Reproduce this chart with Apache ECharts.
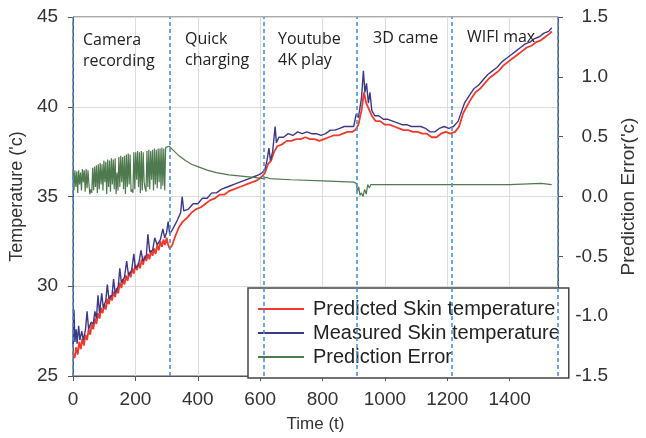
<!DOCTYPE html>
<html><head><meta charset="utf-8">
<script src="https://cdn.jsdelivr.net/npm/echarts@6/dist/echarts.min.js"></script>
<style>html,body{margin:0;padding:0;background:#fff}#c{width:646px;height:438px}</style>
</head><body><div id="c"></div>
<script>
// ---- data ----
const measT = [0,3,6,10,13,18,22,28,33,40,45,50,58,65,70,75,80,85,92,97,105,110,115,125,130,135,145,150,155,165,172,178,188,195,200,210,218,224,235,240,246,255,262,270,280,288,294,300,305,310,320,335,345,350,355,370,385,400,415,430,445,460,475,490,505,520,535,550,565,580,595,605,615,622,628,633,640,648,652,660,675,690,705,720,735,750,765,780,795,810,825,840,855,870,885,900,908,915,925,931,936,941,947,952,958,967,980,995,1010,1025,1040,1055,1070,1085,1100,1115,1130,1145,1160,1175,1190,1205,1220,1235,1245,1255,1270,1285,1300,1315,1330,1345,1360,1375,1390,1405,1420,1435,1450,1465,1480,1495,1510,1525,1535];
const measV = [26.6,28.7,26.9,27.6,26.8,27.8,27.0,27.5,27.0,27.6,28.6,27.6,28.0,27.9,28.6,28.2,29.5,28.5,29.6,28.8,29.2,30.1,29.3,29.5,30.4,29.6,30.0,31.0,30.2,30.5,31.4,30.6,30.9,31.8,31.0,31.2,32.0,31.4,31.7,32.9,31.9,32.0,32.7,32.3,32.6,33.2,32.7,33.0,33.6,32.9,33.2,33.7,34.1,35.0,34.2,34.3,34.6,34.6,34.9,34.9,35.2,35.2,35.4,35.5,35.6,35.7,35.8,35.9,36.0,36.1,36.2,36.3,36.5,37.0,37.7,37.0,37.5,38.9,38.0,38.3,38.3,38.5,38.4,38.6,38.5,38.6,38.5,38.5,38.4,38.5,38.7,38.7,38.8,38.9,38.9,38.9,39.6,39.4,40.5,42.0,40.8,41.3,40.2,40.8,39.8,39.5,39.5,39.3,39.3,39.2,39.1,39.0,39.0,38.9,38.9,38.9,38.8,38.6,38.6,38.8,38.9,38.8,38.9,39.2,39.7,40.2,40.6,41.0,41.2,41.5,41.8,42.0,42.2,42.5,42.7,42.9,43.1,43.3,43.5,43.6,43.8,43.9,44.1,44.2,44.4];

const predT = [0,5,10,15,20,25,30,35,40,45,50,55,60,65,70,75,80,85,90,95,100,105,110,115,120,125,130,135,140,145,150,155,160,165,170,175,180,185,190,195,200,205,210,215,220,225,230,235,240,245,250,255,260,265,270,275,280,285,290,295,300,305,310,318,328,340,352,365,380,395,410,425,440,455,470,485,500,515,530,545,560,575,590,605,615,625,635,645,655,670,685,700,715,730,745,760,775,790,805,820,835,850,865,880,895,905,915,925,933,940,948,958,970,985,1000,1015,1030,1045,1060,1075,1090,1105,1120,1135,1150,1165,1180,1195,1210,1225,1238,1250,1262,1275,1290,1305,1320,1335,1350,1365,1380,1395,1410,1425,1440,1455,1470,1485,1500,1515,1530,1535];
const predV = [26.3,26.0,26.6,26.2,26.9,26.5,27.1,26.7,27.3,27.0,27.6,27.3,27.9,27.6,28.2,27.9,28.5,28.2,28.8,28.5,29.0,28.7,29.3,29.0,29.5,29.2,29.7,29.4,29.9,29.6,30.2,29.9,30.4,30.1,30.6,30.3,30.8,30.5,31.0,30.7,31.2,30.9,31.3,31.0,31.5,31.2,31.7,31.4,31.8,31.5,32.0,31.7,32.1,31.8,32.3,32.0,32.5,32.2,32.6,32.3,32.7,32.3,32.1,32.3,32.8,33.3,33.6,33.8,34.1,34.3,34.4,34.6,34.8,34.9,35.1,35.1,35.3,35.4,35.5,35.6,35.7,35.8,35.9,36.1,36.3,36.8,37.0,37.5,37.8,37.9,38.1,38.1,38.2,38.2,38.3,38.2,38.2,38.1,38.2,38.3,38.4,38.4,38.5,38.6,38.6,38.7,39.0,39.8,40.8,40.2,39.9,39.5,39.2,39.2,39.0,39.0,38.9,38.8,38.7,38.7,38.6,38.6,38.5,38.5,38.3,38.3,38.5,38.6,38.5,38.6,38.9,39.6,40.0,40.4,40.8,41.0,41.3,41.6,41.8,42.0,42.3,42.5,42.7,42.9,43.1,43.3,43.4,43.6,43.7,43.9,44.1,44.2];

const errT = [0,3,6,9,12,15,18,21,24,27,30,33,36,39,42,45,48,51,54,57,60,63,66,69,72,75,78,81,84,87,90,93,96,99,102,105,108,111,114,117,120,123,126,129,132,135,138,141,144,147,150,153,156,159,162,165,168,171,174,177,180,183,186,189,192,195,198,201,204,207,210,213,216,219,222,225,228,231,234,237,240,243,246,249,252,255,258,261,264,267,270,273,276,279,282,285,288,291,294,297,300,308,320,340,360,380,400,430,460,500,540,580,610,620,630,700,800,900,908,912,916,920,925,930,935,940,945,950,955,1000,1100,1200,1300,1400,1500,1535];
const errV = [0.20,0.05,0.22,0.08,0.21,0.03,0.22,0.10,0.20,0.05,0.23,0.12,0.22,0.04,0.23,0.07,0.22,0.10,0.02,0.06,0.03,0.24,0.05,0.25,0.08,0.26,0.03,0.27,0.06,0.28,0.10,0.27,0.05,0.30,0.12,0.29,0.02,0.31,0.08,0.30,0.04,0.32,0.10,0.31,0.06,0.32,0.02,0.20,0.05,0.33,0.08,0.34,0.12,0.33,0.06,0.34,0.02,0.35,0.08,0.36,0.10,0.35,0.04,0.06,0.03,0.37,0.06,0.37,0.14,0.38,0.08,0.37,0.03,0.38,0.05,0.37,0.12,0.07,0.04,0.38,0.08,0.39,0.06,0.38,0.14,0.39,0.05,0.40,0.10,0.39,0.07,0.40,0.12,0.40,0.06,0.41,0.09,0.40,0.05,0.41,0.40,0.42,0.39,0.34,0.30,0.27,0.25,0.22,0.20,0.18,0.17,0.16,0.15,0.16,0.15,0.14,0.13,0.12,0.11,0.04,0.08,0.01,0.03,0.00,0.06,0.02,0.10,0.07,0.10,0.10,0.10,0.10,0.10,0.10,0.11,0.10];

const phaseLines = [0,310,610,910,1215,1553];
const phaseLabels = ['Camera\nrecording','Quick\ncharging','Youtube\n4K play','3D came','WIFI max'];
const seriesNames = ['Predicted Skin temperature','Measured Skin temperature','Prediction Error'];

const pairs = (t, v) => t.map((x, i) => [x, v[i]]);

const chart = echarts.init(document.getElementById('c'), null, {renderer:'canvas'});
const labelPos = [[83,30],[185,29],[278,29],[373,28],[467,27]];
const font = 'Liberation Sans, Arial, sans-serif';
chart.setOption({
  animation:false,
  backgroundColor:'#fff',
  grid:{left:70,right:73,top:17,bottom:59,show:true,borderColor:'#555',borderWidth:1,containLabel:false},
  legend:{
    orient:'vertical', left:248, top:288,
    padding:[11,9,11,10], itemGap:4, itemWidth:46, itemHeight:2, icon:'rect',
    backgroundColor:'#fff', borderColor:'#444', borderWidth:1.5, borderRadius:0,
    textStyle:{fontFamily:font,fontSize:20,color:'#222',padding:[0,0,0,4]},
    data:seriesNames
  },
  xAxis:{
    type:'value', min:0, max:1555, interval:200,
    name:'Time (t)', nameLocation:'middle', nameGap:40,
    nameTextStyle:{fontFamily:font,fontSize:17,color:'#333'},
    axisLine:{show:true,onZero:false,lineStyle:{color:'#555',width:1}},
    axisTick:{show:true,inside:false,length:5,lineStyle:{color:'#555'}},
    axisLabel:{fontFamily:font,fontSize:19,color:'#333',margin:14,showMaxLabel:false,formatter:v=>String(v)},
    splitLine:{show:true,lineStyle:{color:'#dcdcdc',width:1}}
  },
  yAxis:[{
    type:'value', min:25, max:45, interval:5, position:'left',
    name:"Temperature ('c)", nameLocation:'middle', nameGap:40, nameRotate:90,
    nameTextStyle:{fontFamily:font,fontSize:18,color:'#333'},
    axisLine:{show:true,onZero:false,lineStyle:{color:'#555',width:1}},
    axisTick:{show:true,length:5,lineStyle:{color:'#555'}},
    axisLabel:{fontFamily:font,fontSize:19,color:'#333',margin:15},
    splitLine:{show:true,lineStyle:{color:'#dcdcdc',width:1}}
  },{
    type:'value', min:-1.5, max:1.5, interval:0.5, position:'right',
    name:"Prediction Error('c)", nameLocation:'middle', nameGap:61, nameRotate:90,
    nameTextStyle:{fontFamily:font,fontSize:19,color:'#333'},
    axisLine:{show:true,onZero:false,lineStyle:{color:'#555',width:1}},
    axisTick:{show:true,length:5,lineStyle:{color:'#555'}},
    axisLabel:{fontFamily:font,fontSize:19,color:'#333',margin:50,align:'right',formatter:v=>v.toFixed(1)},
    splitLine:{show:false}
  }],
  series:[{
    name:seriesNames[0], type:'line', yAxisIndex:0, symbol:'none',
    data:pairs(predT,predV), lineStyle:{color:'#f2392b',width:1.8}, itemStyle:{color:'#f2392b'}, z:2
  },{
    name:seriesNames[1], type:'line', yAxisIndex:0, symbol:'none',
    data:pairs(measT,measV), lineStyle:{color:'#3d3a85',width:1.4}, itemStyle:{color:'#3d3a85'}, z:3
  },{
    name:seriesNames[2], type:'line', yAxisIndex:1, symbol:'none',
    data:pairs(errT,errV), lineStyle:{color:'#4f7a4f',width:1.2}, itemStyle:{color:'#4f7a4f'}, z:4,
    markLine:{
      silent:true, symbol:'none', animation:false,
      label:{show:false},
      lineStyle:{color:'#4f8fd6',type:[4,3],width:1.6},
      data:phaseLines.map(x=>({xAxis:x}))
    }
  }],
  graphic: phaseLabels.map((t,i)=>({
    type:'text', left:labelPos[i][0], top:labelPos[i][1], z:10,
    style:{text:t, fill:'#222', font:'16px "Open Sans", "Noto Sans", sans-serif', lineHeight:21}
  }))
});
</script></body></html>
